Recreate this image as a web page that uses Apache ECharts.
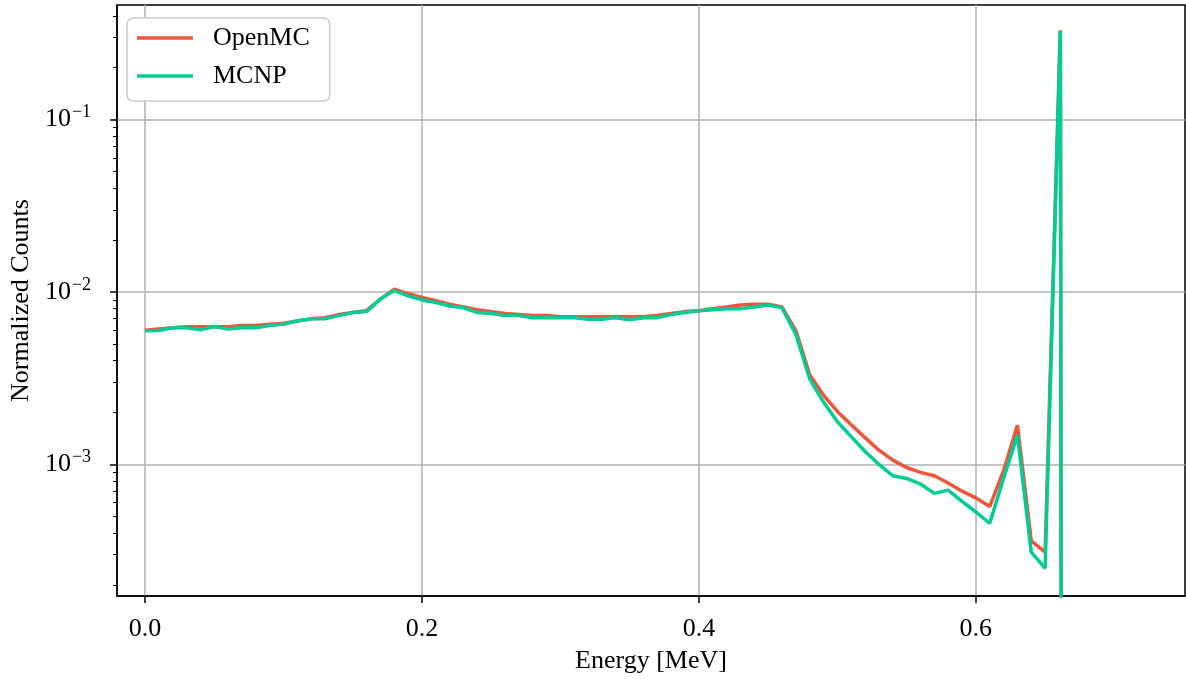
<!DOCTYPE html>
<html>
<head>
<meta charset="utf-8">
<title>Energy spectrum</title>
<script src="https://cdn.jsdelivr.net/npm/echarts@6.0.0/dist/echarts.min.js"></script>
<style>
  html, body { margin: 0; padding: 0; background: #fff; }
  #chart { width: 1186px; height: 679px; }
</style>
</head>
<body>
<div id="chart"></div>
<script>
// energy bins [MeV]
const energy = [
  0.00, 0.01, 0.02, 0.03, 0.04, 0.05, 0.06, 0.07, 0.08, 0.09,
  0.10, 0.11, 0.12, 0.13, 0.14, 0.15, 0.16, 0.17, 0.18, 0.19,
  0.20, 0.21, 0.22, 0.23, 0.24, 0.25, 0.26, 0.27, 0.28, 0.29,
  0.30, 0.31, 0.32, 0.33, 0.34, 0.35, 0.36, 0.37, 0.38, 0.39,
  0.40, 0.41, 0.42, 0.43, 0.44, 0.45, 0.46, 0.47, 0.48, 0.49,
  0.50, 0.51, 0.52, 0.53, 0.54, 0.55, 0.56, 0.57, 0.58, 0.59,
  0.60, 0.61, 0.62, 0.63, 0.64, 0.65, 0.661, 0.662
]

// OpenMC
const openmc = [
  0.0060, 0.0061, 0.0062, 0.0063, 0.0063, 0.0063, 0.0063, 0.0064, 0.0064, 0.0065,
  0.0066, 0.0068, 0.0070, 0.0071, 0.0074, 0.0076, 0.0078, 0.0091, 0.0104, 0.0098,
  0.0093, 0.0089, 0.0085, 0.0082, 0.0079, 0.0077, 0.0075, 0.0074, 0.0073, 0.0073,
  0.0072, 0.0072, 0.0072, 0.0072, 0.0072, 0.0072, 0.0072, 0.0073, 0.0075, 0.0077,
  0.0078, 0.0080, 0.0082, 0.0084, 0.0085, 0.0085, 0.0082, 0.0060, 0.00331, 0.00252,
  0.00203, 0.00170, 0.00143, 0.00121, 0.00106, 0.00096, 0.00090, 0.00086, 0.00078, 0.00070,
  0.00064, 0.00057, 0.00092, 0.00169, 0.00036, 0.00031, 0.33, 0.000001
]

// MCNP
const mcnp = [
  0.00597, 0.00598, 0.0062, 0.0062, 0.00605, 0.0063, 0.0061, 0.0062, 0.0062, 0.0064,
  0.0065, 0.0068, 0.0070, 0.0070, 0.0073, 0.0076, 0.0077, 0.0091, 0.0102, 0.0095,
  0.0090, 0.0087, 0.0083, 0.0081, 0.0076, 0.0075, 0.0073, 0.0073, 0.0071, 0.0071,
  0.0071, 0.0071, 0.00695, 0.00695, 0.0071, 0.0069, 0.0071, 0.0071, 0.0074, 0.0076,
  0.0078, 0.0079, 0.0080, 0.0080, 0.0082, 0.0084, 0.0081, 0.0057, 0.00314, 0.0023,
  0.00177, 0.00145, 0.00119, 0.00100, 0.00086, 0.00083, 0.00077, 0.00068, 0.00071, 0.00061,
  0.00053, 0.000456, 0.00083, 0.00148, 0.00031, 0.00025, 0.325, 0.000001
]

const xTicks = [0, 0.2, 0.4, 0.6]
const yTicks = [0.001, 0.01, 0.1]

const FONT = 'Liberation Serif'

const chart = echarts.init(document.getElementById('chart'))

const toPairs = (ys) => energy.map((x, i) => [x, ys[i]])

const option = {
  animation: false,
  textStyle: { fontFamily: FONT, color: '#000' },
  grid: {
    left: 113,
    top: 5,
    width: 1072,
    height: 593,
    show: true,
    borderColor: '#000',
    borderWidth: 1.5,
    backgroundColor: 'transparent'
  },
  legend: {
    orient: 'vertical',
    left: 127,
    top: 18,
    icon: 'rect',
    itemWidth: 56,
    itemHeight: 3.5,
    itemGap: 8,
    padding: [5, 20, 10, 10],
    backgroundColor: '#fff',
    borderColor: '#cccccc',
    borderWidth: 1.5,
    borderRadius: 6,
    textStyle: {
      fontFamily: FONT,
      fontSize: 26,
      lineHeight: 30,
      color: '#000',
      padding: [0, 0, 0, 15]
    },
    data: ['OpenMC', 'MCNP']
  },
  xAxis: {
    type: 'value',
    min: -0.0201,
    max: 0.751,
    name: 'Energy [MeV]',
    nameLocation: 'middle',
    nameGap: 52,
    nameTextStyle: { fontFamily: FONT, fontSize: 26, color: '#000' },
    axisLine: { show: true, onZero: false, lineStyle: { color: '#000', width: 1.5 } },
    axisTick: {
      show: true,
      length: 7,
      customValues: xTicks,
      lineStyle: { color: '#000', width: 1.5 }
    },
    axisLabel: {
      margin: 20,
      fontFamily: FONT,
      fontSize: 26,
      color: '#000',
      customValues: xTicks,
      formatter: (v) => v.toFixed(1)
    },
    splitLine: { show: true, lineStyle: { color: '#b0b0b0', width: 1.5 } }
  },
  yAxis: {
    type: 'log',
    logBase: 10,
    min: 1.726e-4,
    max: 0.4622,
    name: 'Normalized Counts',
    nameLocation: 'middle',
    nameGap: 75,
    nameTextStyle: { fontFamily: FONT, fontSize: 26, color: '#000' },
    // keep the y axis on the frame, not at x = 0
    axisLine: { show: true, onZero: false, lineStyle: { color: '#000', width: 1.5 } },
    axisTick: {
      show: true,
      length: 7,
      customValues: yTicks,
      lineStyle: { color: '#000', width: 1.5 }
    },
    minorTick: {
      show: true,
      splitNumber: 9,
      length: 4,
      lineStyle: { color: '#000', width: 1 }
    },
    axisLabel: {
      margin: 26,
      customValues: yTicks,
      formatter: (v) => {
        const p = Math.round(Math.log10(v))
        return '{b|10}{s|\u2212' + Math.abs(p) + '}'
      },
      rich: {
        b: { fontFamily: FONT, fontSize: 26, color: '#000' },
        s: { fontFamily: FONT, fontSize: 18, color: '#000', padding: [0, 0, 14, 1] }
      }
    },
    splitLine: { show: true, lineStyle: { color: '#b0b0b0', width: 1.5 } }
  },
  series: [
    {
      name: 'OpenMC',
      type: 'line',
      data: toPairs(openmc),
      showSymbol: false,
      color: '#EF553B',
      lineStyle: { width: 3.5, color: '#EF553B' },
      z: 2
    },
    {
      name: 'MCNP',
      type: 'line',
      data: toPairs(mcnp),
      showSymbol: false,
      color: '#00CC96',
      lineStyle: { width: 3.5, color: '#00CC96' },
      z: 3
    }
  ]
}

chart.setOption(option)
</script>
</body>
</html>
